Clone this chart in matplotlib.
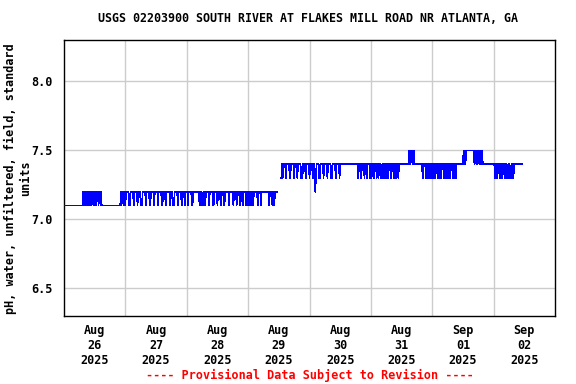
import matplotlib
matplotlib.use("Agg")
import matplotlib.pyplot as plt
import numpy as np
import pandas as pd

nan = float("nan")

# pH readings, 15-minute intervals, each day starting at 00:00
aug26 = [
    7.1, 7.1, 7.1, 7.1, 7.1, 7.1, 7.1, 7.1, 7.1, 7.1, 7.1, 7.1, 7.1, 7.1, 7.1, 7.1, 7.1, 7.1, 7.1, 7.1, 7.1, 7.1, 7.1, 7.1,
    7.1, 7.1, 7.1, 7.1, 7.1, 7.1, 7.2, 7.1, 7.2, 7.1, 7.2, 7.1, 7.2, 7.1, 7.2, 7.1, 7.2, 7.2, 7.1, 7.2, 7.2, 7.2, 7.1, 7.2,
    7.2, 7.1, 7.1, 7.2, 7.2, 7.2, 7.1, 7.2, 7.2, 7.1, 7.2, 7.1, 7.1, 7.1, 7.1, 7.1, 7.1, 7.1, 7.1, 7.1, 7.1, 7.1, 7.1, 7.1,
    7.1, 7.1, 7.1, 7.1, 7.1, 7.1, 7.1, 7.1, 7.1, 7.1, 7.1, 7.1, 7.1, 7.1, 7.1, 7.1, 7.1, 7.2, 7.1, 7.2, 7.2, 7.1, 7.2, 7.2,
]
aug27 = [
    7.1, 7.2, 7.2, 7.2, 7.2, 7.2, 7.1, 7.1, 7.2, 7.2, 7.2, 7.2, 7.2, 7.1, 7.2, 7.2, 7.2, 7.2, 7.2, 7.1, 7.2, 7.2, 7.2, 7.2,
    7.1, 7.1, 7.1, 7.2, 7.2, 7.2, 7.2, 7.2, 7.1, 7.2, 7.2, 7.2, 7.2, 7.2, 7.1, 7.1, 7.2, 7.2, 7.2, 7.2, 7.2, 7.1, 7.2, 7.2,
    7.2, 7.2, 7.2, 7.1, 7.2, 7.2, 7.2, 7.2, 7.2, 7.1, 7.1, 7.2, 7.2, 7.2, 7.2, 7.1, 7.2, 7.2, 7.2, 7.2, 7.2, 7.2, 7.1, 7.2,
    7.2, 7.2, 7.1, 7.1, 7.1, 7.2, 7.2, 7.2, 7.2, 7.2, 7.1, 7.2, 7.2, 7.2, 7.2, 7.2, 7.1, 7.1, 7.2, 7.2, 7.2, 7.1, 7.2, 7.2,
]
aug28 = [
    7.2, 7.2, 7.1, 7.2, 7.2, 7.2, 7.2, 7.2, 7.1, 7.1, 7.2, 7.2, 7.2, 7.2, 7.2, 7.2, 7.2, 7.2, 7.2, 7.2, 7.1, 7.2, 7.1, 7.2,
    7.1, 7.1, 7.2, 7.1, 7.2, 7.1, 7.2, 7.2, 7.2, 7.2, 7.2, 7.1, 7.2, 7.2, 7.2, 7.2, 7.2, 7.1, 7.1, 7.2, 7.2, 7.2, 7.2, 7.2,
    7.1, 7.2, 7.2, 7.2, 7.2, 7.1, 7.2, 7.2, 7.2, 7.2, 7.1, 7.1, 7.2, 7.2, 7.2, 7.2, 7.2, 7.2, 7.1, 7.2, 7.2, 7.2, 7.2, 7.2,
    7.2, 7.1, 7.2, 7.2, 7.2, 7.2, 7.1, 7.2, 7.2, 7.2, 7.2, 7.1, 7.1, 7.2, 7.2, 7.2, 7.1, 7.2, 7.2, 7.2, 7.2, 7.1, 7.2, 7.2,
]
aug29 = [
    7.1, 7.2, 7.1, 7.2, 7.1, 7.2, 7.1, 7.2, 7.1, 7.2, 7.2, 7.2, 7.2, 7.2, 7.2, 7.1, 7.2, 7.2, 7.2, 7.2, 7.1, 7.2, 7.2, 7.2,
    7.2, 7.2, 7.2, 7.2, 7.2, 7.2, 7.2, 7.2, 7.2, 7.1, 7.2, 7.2, 7.2, 7.2, 7.1, 7.2, 7.2, 7.1, 7.2, 7.2, 7.2, 7.2, nan, nan,
    nan, nan, nan, 7.3, 7.3, 7.4, 7.3, 7.4, 7.4, 7.4, 7.4, 7.3, 7.4, 7.4, 7.4, 7.4, 7.4, 7.3, 7.3, 7.4, 7.4, 7.4, 7.4, 7.4,
    7.3, 7.4, 7.4, 7.4, 7.4, 7.3, 7.4, 7.4, 7.4, 7.4, 7.4, 7.3, 7.3, 7.3, 7.4, 7.4, 7.4, 7.4, 7.3, 7.4, 7.4, 7.4, 7.4, 7.4,
]
aug30 = [
    7.3, 7.4, 7.4, 7.4, 7.4, 7.3, 7.4, 7.4, 7.3, 7.2, 7.3, 7.4, 7.4, 7.4, 7.4, 7.3, 7.3, 7.4, 7.4, 7.4, 7.4, 7.4, 7.3, 7.4,
    7.4, 7.4, 7.4, 7.4, 7.3, 7.4, 7.4, 7.4, 7.4, 7.4, 7.3, 7.3, 7.4, 7.4, 7.4, 7.4, 7.4, 7.3, 7.4, 7.4, 7.4, 7.4, 7.4, 7.3,
    7.4, 7.4, 7.4, 7.4, 7.4, 7.4, 7.4, 7.4, 7.4, 7.4, 7.4, 7.4, 7.4, 7.4, 7.4, 7.4, 7.4, 7.4, 7.4, 7.4, 7.4, 7.4, 7.4, 7.4,
    7.4, 7.4, 7.4, 7.4, 7.3, 7.4, 7.4, 7.4, 7.3, 7.3, 7.4, 7.4, 7.4, 7.4, 7.3, 7.4, 7.4, 7.4, 7.3, 7.4, 7.4, 7.4, 7.4, 7.3,
]
aug31 = [
    7.4, 7.3, 7.4, 7.4, 7.3, 7.3, 7.4, 7.4, 7.4, 7.3, 7.4, 7.4, 7.3, 7.4, 7.4, 7.4, 7.3, 7.3, 7.4, 7.4, 7.3, 7.4, 7.4, 7.4,
    7.3, 7.4, 7.4, 7.3, 7.4, 7.4, 7.4, 7.3, 7.3, 7.4, 7.4, 7.4, 7.3, 7.4, 7.4, 7.3, 7.4, 7.4, 7.4, 7.3, 7.4, 7.4, 7.4, 7.4,
    7.4, 7.4, 7.4, 7.4, 7.4, 7.4, 7.4, 7.4, 7.4, 7.4, 7.4, 7.4, 7.5, 7.4, 7.5, 7.5, 7.5, 7.4, 7.5, 7.5, 7.4, 7.4, 7.4, 7.4,
    7.4, 7.4, 7.4, 7.4, 7.4, 7.4, 7.4, 7.4, 7.4, 7.3, 7.4, 7.4, 7.4, 7.4, 7.3, 7.4, 7.4, 7.3, 7.3, 7.4, 7.3, 7.4, 7.4, 7.3,
]
sep01 = [
    7.3, 7.4, 7.4, 7.3, 7.4, 7.3, 7.4, 7.4, 7.4, 7.3, 7.4, 7.3, 7.4, 7.4, 7.3, 7.4, 7.4, 7.4, 7.3, 7.4, 7.3, 7.4, 7.4, 7.3,
    7.4, 7.4, 7.3, 7.4, 7.3, 7.4, 7.4, 7.4, 7.3, 7.4, 7.4, 7.3, 7.4, 7.3, 7.4, 7.4, 7.4, 7.4, 7.4, 7.4, 7.4, 7.4, 7.4, 7.4,
    7.4, 7.5, 7.4, 7.5, 7.4, 7.5, 7.5, 7.5, 7.5, 7.5, 7.5, 7.5, 7.5, 7.5, 7.5, 7.5, 7.5, 7.5, 7.4, 7.5, 7.5, 7.4, 7.5, 7.4,
    7.5, 7.5, 7.4, 7.5, 7.4, 7.5, 7.5, 7.4, 7.4, 7.4, 7.4, 7.4, 7.4, 7.4, 7.4, 7.4, 7.4, 7.4, 7.4, 7.4, 7.4, 7.4, 7.4, 7.4,
]
sep02 = [
    7.4, 7.4, 7.3, 7.4, 7.3, 7.4, 7.3, 7.4, 7.4, 7.4, 7.3, 7.4, 7.4, 7.3, 7.4, 7.4, 7.4, 7.3, 7.4, 7.3, 7.4, 7.3, 7.3, 7.4,
    7.3, 7.4, 7.3, 7.3, 7.4, 7.3, 7.4, 7.3, 7.4, 7.4, 7.4, 7.4, 7.4, 7.4, 7.4, 7.4, 7.4, 7.4, 7.4, 7.4, 7.4,
]

start_time = "2025-08-26 00:00"
x_start = "2025-08-26"
x_end = "2025-09-03"
y_ticks = [6.5, 7.0, 7.5, 8.0]
y_tick_labels = ["6.5", "7.0", "7.5", "8.0"]
day_labels = ["Aug\n26\n2025", "Aug\n27\n2025", "Aug\n28\n2025", "Aug\n29\n2025",
              "Aug\n30\n2025", "Aug\n31\n2025", "Sep\n01\n2025", "Sep\n02\n2025"]

ph = np.array(aug26 + aug27 + aug28 + aug29 + aug30 + aug31 + sep01 + sep02, dtype=float)
times = pd.date_range(start_time, periods=len(ph), freq="15min")

FONT = "DejaVu Sans Mono"
FS = 8.5

fig = plt.figure(figsize=(5.76, 3.84), dpi=100)
ax = fig.add_axes([64 / 576, 68 / 384, 491 / 576, 276 / 384])

ax.plot(times, ph, color="#0000ff", lw=0.5, antialiased=False, zorder=3)

ax.set_xlim(pd.Timestamp(x_start), pd.Timestamp(x_end))
ax.set_ylim(6.3, 8.3)

midnights = pd.date_range(x_start, x_end, freq="D")
noons = pd.date_range(x_start, periods=8, freq="D") + pd.Timedelta(hours=12)
ax.set_xticks(noons)
ax.set_xticklabels(day_labels, fontfamily=FONT, fontweight="bold", fontsize=FS)
ax.set_xticks(midnights[1:-1], minor=True)
ax.set_yticks(y_ticks)
ax.set_yticklabels(y_tick_labels, fontfamily=FONT, fontweight="bold", fontsize=FS)

ax.grid(which="minor", axis="x", color="#cccccc", lw=1.0)
ax.grid(which="major", axis="y", color="#cccccc", lw=1.0)
ax.grid(which="major", axis="x", visible=False)
ax.tick_params(which="both", length=0)
ax.tick_params(axis="y", pad=8)
ax.tick_params(axis="x", pad=6)
for s in ax.spines.values():
    s.set_linewidth(1.0)
    s.set_color("black")

fig.text(308 / 576, 1 - 19 / 384, "USGS 02203900 SOUTH RIVER AT FLAKES MILL ROAD NR ATLANTA, GA",
         ha="center", va="center", fontfamily=FONT, fontweight="bold", fontsize=8.4)
fig.text(18 / 576, 0.536, "pH, water, unfiltered, field, standard\nunits",
         rotation=90, ha="center", va="center", multialignment="center",
         fontfamily=FONT, fontweight="bold", fontsize=FS)
fig.text(310 / 576, 1 - 375 / 384, "---- Provisional Data Subject to Revision ----",
         ha="center", va="center", color="red", fontfamily=FONT, fontweight="bold", fontsize=FS)

fig.savefig("out.png", dpi=100)
